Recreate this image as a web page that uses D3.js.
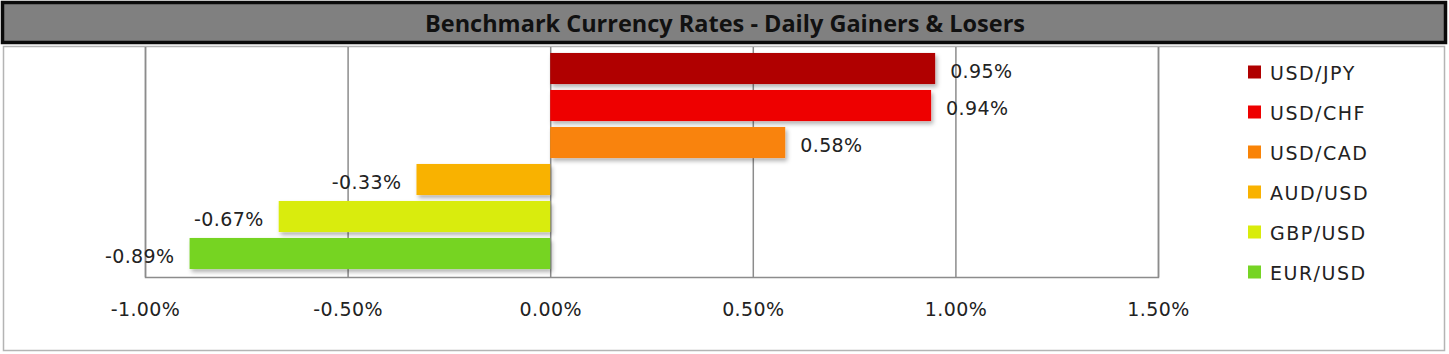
<!DOCTYPE html>
<html>
<head>
<meta charset="utf-8">
<script src="https://cdn.jsdelivr.net/npm/d3@7"></script>
<style>
  html, body { margin: 0; padding: 0; background: #fff; }
  svg { display: block; }
</style>
</head>
<body>
<svg id="chart" width="1449" height="354"></svg>
<script>
const title = "Benchmark Currency Rates - Daily Gainers & Losers";
const categories = ["USD/JPY", "USD/CHF", "USD/CAD", "AUD/USD", "GBP/USD", "EUR/USD"];
const values = [0.95, 0.94, 0.58, -0.33, -0.67, -0.89];
const colors = ["#B00000", "#EE0000", "#F98307", "#F9B200", "#D9EC0B", "#76D424"];
const tickValues = [-1.0, -0.5, 0.0, 0.5, 1.0, 1.5];
const tickLabels = ["-1.00%", "-0.50%", "0.00%", "0.50%", "1.00%", "1.50%"];

const svg = d3.select("#chart");
const font = "'DejaVu Sans', sans-serif";

// drop shadow filter
const defs = svg.append("defs");
const f = defs.append("filter").attr("id", "shadow").attr("x", "-10%").attr("y", "-30%").attr("width", "130%").attr("height", "180%");
f.append("feDropShadow").attr("dx", 2).attr("dy", 3).attr("stdDeviation", 2).attr("flood-color", "#000").attr("flood-opacity", 0.3);

// chart area border
svg.append("rect").attr("x", 3.5).attr("y", 46.5).attr("width", 1441).attr("height", 304)
  .attr("fill", "#fff").attr("stroke", "#b4b4b4").attr("stroke-width", 1.5);

// title bar
svg.append("rect").attr("x", 2.5).attr("y", 2.5).attr("width", 1443).attr("height", 40)
  .attr("fill", "#808080").attr("stroke", "#0a0a0a").attr("stroke-width", 3.5);
svg.append("text").attr("x", 725).attr("y", 31.5).attr("text-anchor", "middle")
  .attr("font-family", "'Open Sans', sans-serif").attr("font-weight", "bold").attr("font-size", 23)
  .attr("textLength", 600).attr("lengthAdjust", "spacingAndGlyphs")
  .attr("fill", "#111").text(title);

// scales
const x = d3.scaleLinear().domain([-1.0, 1.5]).range([145, 1158]);
const y = d3.scaleBand().domain(categories).range([50, 272]).paddingInner(0.16).paddingOuter(0.08);
const plotTop = 47, plotBottom = 277;

// gridlines
const grid = d3.axisBottom(x).tickValues(tickValues).tickSize(-(plotBottom - plotTop)).tickFormat("");
const g = svg.append("g").attr("transform", `translate(0,${plotBottom})`).call(grid);
g.select(".domain").attr("stroke", "#8c8c8c").attr("stroke-width", 1.5);
g.selectAll(".tick line").attr("stroke", "#8c8c8c").attr("stroke-width", 1.5);

// axis labels
const ax = d3.axisBottom(x).tickValues(tickValues).tickSize(0).tickPadding(26)
  .tickFormat((d, i) => tickLabels[i]);
const ag = svg.append("g").attr("transform", `translate(0,${plotBottom})`).call(ax);
ag.select(".domain").remove();
ag.selectAll("text").attr("font-family", font).attr("font-size", 19)
  .attr("letter-spacing", 0.4).attr("fill", "#222");

// bars
svg.append("g").selectAll("rect").data(categories).join("rect")
  .attr("x", (d, i) => x(Math.min(0, values[i])))
  .attr("y", d => y(d))
  .attr("width", (d, i) => Math.abs(x(values[i]) - x(0)))
  .attr("height", y.bandwidth())
  .attr("fill", (d, i) => colors[i])
  .attr("filter", "url(#shadow)");

// value labels
svg.append("g").selectAll("text").data(categories).join("text")
  .attr("x", (d, i) => values[i] >= 0 ? x(values[i]) + 15 : x(values[i]) - 15)
  .attr("y", d => y(d) + y.bandwidth() / 2 + 3)
  .attr("dy", "0.35em")
  .attr("text-anchor", (d, i) => values[i] >= 0 ? "start" : "end")
  .attr("font-family", font).attr("font-size", 19).attr("letter-spacing", 0.4).attr("fill", "#222")
  .text((d, i) => values[i].toFixed(2) + "%");

// legend
const leg = svg.append("g");
const legY = d3.scalePoint().domain(categories).range([72, 272]);
leg.selectAll("rect").data(categories).join("rect")
  .attr("x", 1248).attr("y", d => legY(d) - 6.5).attr("width", 13).attr("height", 13)
  .attr("fill", (d, i) => colors[i]);
leg.selectAll("text").data(categories).join("text")
  .attr("x", 1270).attr("y", d => legY(d) + 1).attr("dy", "0.35em")
  .attr("font-family", font).attr("font-size", 19).attr("letter-spacing", 1.5).attr("fill", "#222")
  .text(d => d);
</script>
</body>
</html>
